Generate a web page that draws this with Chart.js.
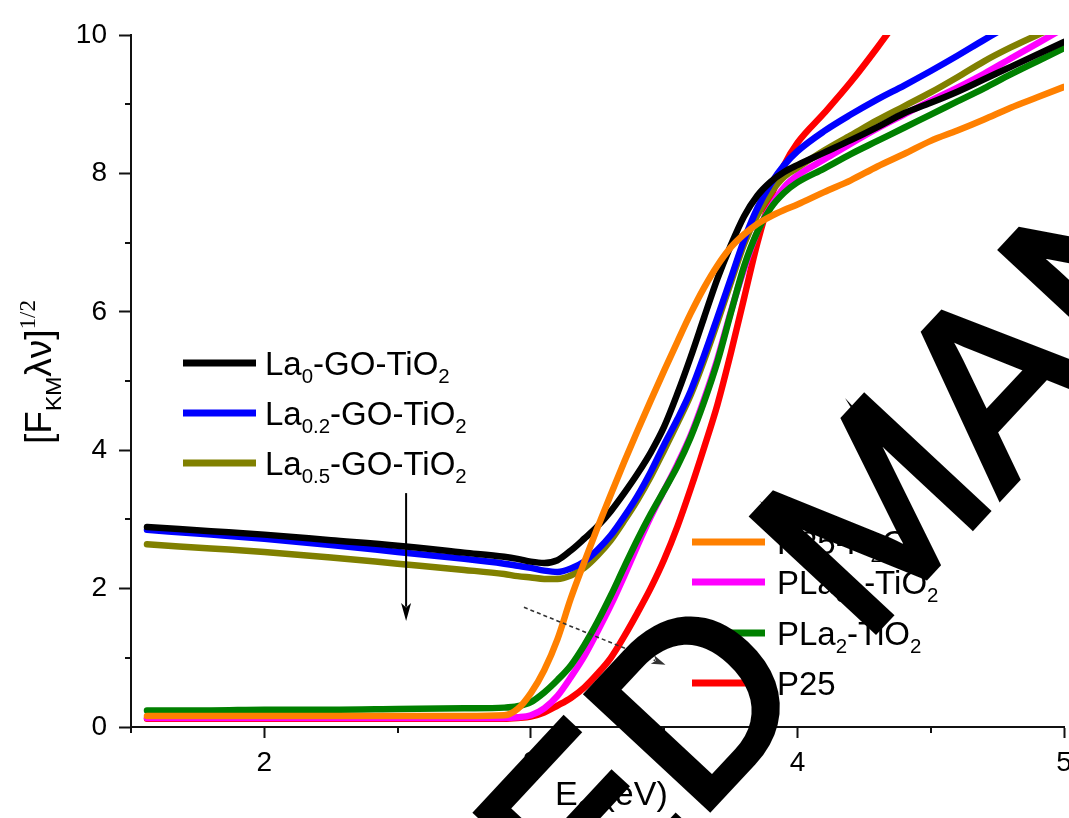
<!DOCTYPE html>
<html><head><meta charset="utf-8">
<script src="https://cdn.jsdelivr.net/npm/chart.js@4.4.0/dist/chart.umd.min.js"></script>
<style>html,body{margin:0;padding:0;background:#fff;overflow:hidden}canvas{display:block}</style>
</head><body>
<canvas id="c" width="1069" height="818"></canvas>
<script>
// ---- data ----
const energy = [1.56,1.8,2.0,2.25,2.5,2.75,2.9,2.95,3.0,3.05,3.1,3.15,3.2,3.25,3.3,3.35,3.4,3.45,3.5,3.55,3.6,3.65,3.7,3.75,3.8,3.85,3.9,3.95,4.0,4.1,4.2,4.3,4.4,4.5,4.6,4.7,4.8,4.9,5.0];
const la0 = [2.89,2.83,2.78,2.70,2.62,2.52,2.46,2.43,2.39,2.37,2.41,2.55,2.72,2.90,3.12,3.38,3.66,3.97,4.34,4.82,5.35,5.92,6.48,6.96,7.38,7.68,7.88,8.02,8.12,8.30,8.48,8.67,8.87,9.02,9.18,9.36,9.54,9.72,9.90];
const la02 = [2.85,2.78,2.72,2.63,2.53,2.43,2.36,2.33,2.30,2.26,2.24,2.29,2.39,2.56,2.77,3.04,3.34,3.69,4.08,4.45,4.86,5.37,5.92,6.48,7.04,7.50,7.85,8.12,8.32,8.61,8.85,9.07,9.27,9.48,9.70,9.93,10.15,10.35,10.55];
const la05 = [2.64,2.58,2.53,2.45,2.36,2.27,2.21,2.18,2.16,2.14,2.14,2.19,2.30,2.48,2.70,2.98,3.28,3.62,4.00,4.39,4.80,5.30,5.85,6.42,6.98,7.40,7.72,7.95,8.08,8.33,8.55,8.77,8.97,9.17,9.39,9.62,9.82,10.0,10.17];
const p25h2o = [0.16,0.16,0.16,0.16,0.16,0.16,0.17,0.26,0.49,0.82,1.27,1.86,2.38,2.88,3.36,3.83,4.28,4.72,5.15,5.57,5.98,6.35,6.67,6.93,7.12,7.27,7.38,7.47,7.55,7.73,7.90,8.10,8.28,8.47,8.62,8.78,8.95,9.10,9.25];
const pla05 = [0.13,0.13,0.13,0.13,0.13,0.13,0.13,0.14,0.17,0.27,0.45,0.72,1.02,1.38,1.76,2.18,2.62,3.04,3.42,3.80,4.22,4.74,5.32,6.00,6.62,7.16,7.52,7.80,7.97,8.20,8.43,8.65,8.85,9.05,9.24,9.44,9.66,9.88,10.1];
const pla2 = [0.24,0.24,0.25,0.25,0.26,0.27,0.28,0.30,0.36,0.50,0.68,0.89,1.18,1.52,1.90,2.31,2.71,3.08,3.42,3.77,4.19,4.70,5.28,5.98,6.66,7.16,7.50,7.72,7.87,8.07,8.28,8.47,8.66,8.85,9.04,9.23,9.43,9.62,9.81];
const p25 = [0.12,0.12,0.12,0.12,0.12,0.12,0.12,0.13,0.15,0.21,0.31,0.42,0.57,0.77,1.00,1.31,1.65,2.01,2.42,2.90,3.45,4.04,4.66,5.40,6.20,7.00,7.65,8.12,8.44,8.87,9.32,9.82,10.35];
const seriesLabels = ["P25-H_{2}O","La_{0}-GO-TiO_{2}","La_{0.2}-GO-TiO_{2}","La_{0.5}-GO-TiO_{2}","PLa_{2}-TiO_{2}","PLa_{0.5}-TiO_{2}","P25"];
const seriesValues = [p25h2o, la0, la02, la05, pla2, pla05, p25];
const seriesColors = ["#ff8000","#000000","#0000ff","#808000","#008000","#ff00ff","#ff0000"];
const xTicks = [2,3,4,5];
const yTicks = [0,2,4,6,8,10];
const xTitle = "E_{G} (eV)";
const yTitle = "[F_{KM}λν]^{1/2}";
const watermark = "ACCEPTED MANUSCRIPT";

const FAM = '"Liberation Sans", Arial, sans-serif';
const SERIF = '"Liberation Serif", "Times New Roman", serif';

function parseRich(str){
  const out=[]; const re=/([_^])\{([^}]*)\}/g; let last=0, m;
  while((m=re.exec(str))){ if(m.index>last) out.push({t:str.slice(last,m.index),m:0}); out.push({t:m[2],m:m[1]==='_'?1:2}); last=re.lastIndex; }
  if(last<str.length) out.push({t:str.slice(last),m:0});
  return out;
}
function richDraw(ctx,str,x,y,size,fam,supFam,measureOnly){
  let w=0;
  parseRich(str).forEach(p=>{
    const s = p.m? size*0.62 : size;
    ctx.font = s+'px '+(p.m===2 && supFam ? supFam : fam);
    const dy = p.m===1 ? size*0.27 : (p.m===2 ? -size*0.42 : 0);
    if(!measureOnly) ctx.fillText(p.t, x+w, y+dy);
    w += ctx.measureText(p.t).width;
  });
  return w;
}

const datasets = seriesValues.map((vals,i)=>({
  label: seriesLabels[i],
  data: vals.map((v,j)=>({x:energy[j], y:v})),
  borderColor: seriesColors[i], backgroundColor: seriesColors[i],
  borderWidth: 6.5, pointRadius: 0, showLine: true, fill:false,
  cubicInterpolationMode: 'monotone', borderCapStyle:'round', borderJoinStyle:'round', clip: 0
}));

const decor = {
  id:'decor',
  afterDraw(chart){
    const ctx = chart.ctx, xs = chart.scales.x, ys = chart.scales.y, ca = chart.chartArea;
    ctx.save();
    // minor ticks
    ctx.strokeStyle='#111'; ctx.lineWidth=2;
    [1.5,2.5,3.5,4.5].forEach(v=>{ const px=Math.round(xs.getPixelForValue(v)); ctx.beginPath(); ctx.moveTo(px,ca.bottom); ctx.lineTo(px,ca.bottom+6); ctx.stroke(); });
    [1,3,5,7,9].forEach(v=>{ const py=Math.round(ys.getPixelForValue(v)); ctx.beginPath(); ctx.moveTo(ca.left,py); ctx.lineTo(ca.left-6,py); ctx.stroke(); });
    // legends
    ctx.fillStyle='#000'; ctx.textBaseline='alphabetic'; ctx.textAlign='left';
    const left = [[1,363],[2,413],[3,463]];
    const right = [[0,542],[5,582],[4,633],[6,683]];
    const drawLeg = (arr,x0,x1,tx)=>arr.forEach(([i,y])=>{
      ctx.strokeStyle=seriesColors[i]; ctx.lineWidth=7; ctx.lineCap='butt';
      ctx.beginPath(); ctx.moveTo(x0,y); ctx.lineTo(x1,y); ctx.stroke();
      ctx.fillStyle='#000'; richDraw(ctx, seriesLabels[i], tx, y+11.5, 33, FAM);
    });
    drawLeg(left,183,256,265);
    drawLeg(right,692,765,777);
    // arrows (annotation, positioned in data units)
    const arrow=(x0,y0,x1,y1,dashed,col,lw,hl,hw)=>{
      const a=xs.getPixelForValue(x0), b=ys.getPixelForValue(y0), c=xs.getPixelForValue(x1), d=ys.getPixelForValue(y1);
      const ang=Math.atan2(d-b,c-a);
      ctx.strokeStyle=col; ctx.fillStyle=col; ctx.lineWidth=lw; ctx.setLineDash(dashed?[4,3]:[]);
      ctx.beginPath(); ctx.moveTo(a,b); ctx.lineTo(c-Math.cos(ang)*hl*0.8,d-Math.sin(ang)*hl*0.8); ctx.stroke();
      ctx.setLineDash([]);
      ctx.beginPath(); ctx.moveTo(c,d);
      ctx.lineTo(c-Math.cos(ang)*hl-Math.sin(ang)*hw, d-Math.sin(ang)*hl+Math.cos(ang)*hw);
      ctx.lineTo(c-Math.cos(ang)*hl*0.75, d-Math.sin(ang)*hl*0.75);
      ctx.lineTo(c-Math.cos(ang)*hl+Math.sin(ang)*hw, d-Math.sin(ang)*hl-Math.cos(ang)*hw);
      ctx.closePath(); ctx.fill();
    };
    arrow(2.532,3.38,2.532,1.53,false,'#000',2,18,5);
    arrow(2.974,1.73,3.505,0.90,true,'#333',1.6,14,4.5);
    // axis titles
    ctx.fillStyle='#000';
    richDraw(ctx,xTitle,555,805,34,FAM);
    ctx.save(); ctx.translate(51,372); ctx.rotate(-Math.PI/2);
    const yw = richDraw(ctx,yTitle,0,0,37,FAM,SERIF,true);
    richDraw(ctx,yTitle,-yw/2,0,37,FAM,SERIF);
    ctx.restore();
    // watermark overlay
    ctx.save(); ctx.translate(586,941); ctx.rotate(-47*Math.PI/180);
    ctx.font='243px '+FAM; ctx.fillStyle='#000'; ctx.strokeStyle='#000'; ctx.lineWidth=7; ctx.lineJoin='miter';
    const off = ctx.measureText('ACCEPT').width;
    ctx.fillText(watermark,-off,0);
    ctx.strokeText(watermark,-off,0);
    ctx.restore();
    ctx.restore();
  }
};

const tickFont = {family: FAM, size: 28};
new Chart(document.getElementById('c'), {
  type:'scatter',
  data:{datasets},
  options:{
    responsive:false, animation:false, devicePixelRatio:1,
    layout:{padding:{top:35,right:5,left:0,bottom:0}},
    plugins:{legend:{display:false}, tooltip:{enabled:false}},
    scales:{
      x:{type:'linear', min:1.5, max:5,
        afterBuildTicks: s=>{ s.ticks = xTicks.map(v=>({value:v})); },
        ticks:{font:tickFont, color:'#000', padding:8, maxRotation:0, autoSkip:false},
        grid:{display:true, drawOnChartArea:false, drawTicks:true, tickLength:11, tickWidth:2, tickColor:'#111'},
        border:{display:true, color:'#111', width:2},
        afterFit: s=>{ s.height=91; s.paddingLeft=0; s.paddingRight=0; }
      },
      y:{type:'linear', min:0, max:10,
        afterBuildTicks: s=>{ s.ticks = yTicks.map(v=>({value:v})); },
        ticks:{font:tickFont, color:'#000', padding:12},
        grid:{display:true, drawOnChartArea:false, drawTicks:true, tickLength:12, tickWidth:2, tickColor:'#111'},
        border:{display:true, color:'#111', width:2},
        afterFit: s=>{ s.width=131; s.paddingTop=0; s.paddingBottom=0; }
      }
    }
  },
  plugins:[decor]
});
</script>
</body></html>
